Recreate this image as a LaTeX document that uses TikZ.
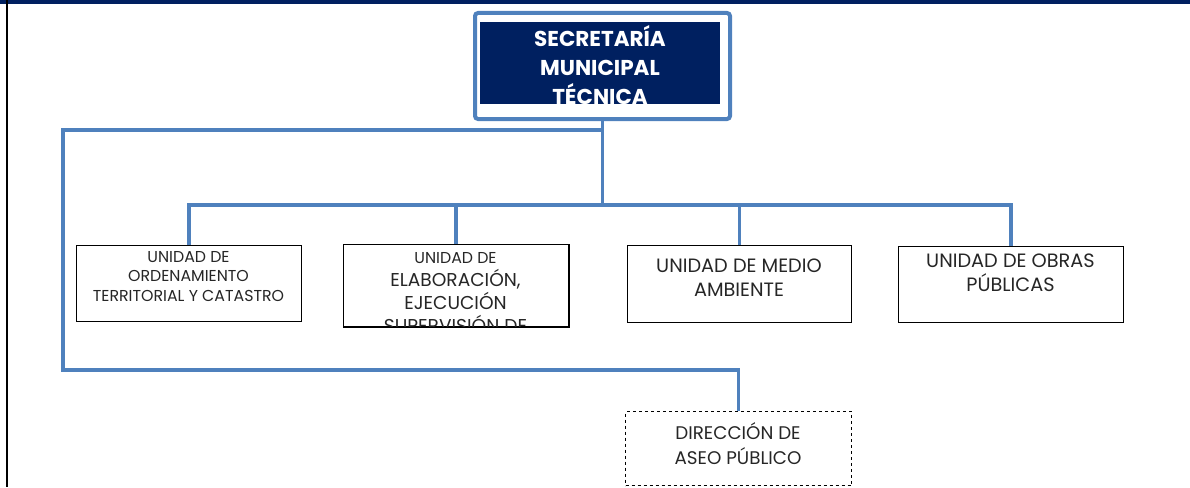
\documentclass[tikz,border=0pt]{standalone}
\usepackage{fontspec}
\setmainfont{Poppins}
\begin{document}
\begin{tikzpicture}[x=1pt,y=-1pt,
  conn/.style={draw=linkblue,line width=3.2pt},
  unit/.style={draw=black,line width=1pt,fill=white,anchor=north west,inner sep=0pt},
  ln/.style={anchor=base,inner sep=0pt,text=textgrey},
  sA/.style={font=\fontsize{15.8}{18}\selectfont},
  sB/.style={font=\fontsize{18.6}{22}\selectfont},
  sC/.style={font=\fontsize{19.3}{22}\selectfont},
  sD/.style={font=\fontsize{18.3}{22}\selectfont},
  hd/.style={anchor=base,inner sep=0pt,text=white,font=\bfseries\fontsize{21.5}{24}\selectfont}]
\definecolor{linkblue}{HTML}{4F81BD}
\definecolor{navy}{HTML}{002060}
\definecolor{textgrey}{HTML}{262626}
\useasboundingbox (0,0) rectangle (1190,487);
% page frame
\fill[navy] (0,0) rectangle (1190,4);
\fill[black] (5.5,0) rectangle (8,487);
% top box
\node[draw=linkblue,line width=4pt,rounded corners=3pt,minimum width=255pt,minimum height=106pt,inner sep=0pt,anchor=north west] (outer) at (473,11) {};
\begin{scope}
\clip (480,22) rectangle (720,104);
\node[fill=navy,minimum width=240pt,minimum height=82pt,inner sep=0pt,anchor=north west] (sec) at (480,22) {};
\node[hd] (h1) at (600,47) {SECRETARÍA};
\node[hd] (h2) at (600,75) {MUNICIPAL};
\node[hd] (h3) at (600,104) {TÉCNICA};
\end{scope}
% unit 1
\node[unit,minimum width=225pt,minimum height=76pt] (u1) at (76,245) {};
\node[ln,sA] (u1a) at (188.5,262) {UNIDAD DE};
\node[ln,sA] (u1b) at (188.5,281.5) {ORDENAMIENTO};
\node[ln,sA] (u1c) at (188.5,301) {TERRITORIAL Y CATASTRO};
% unit 2
\node[unit,minimum width=225pt,minimum height=82pt] (u2) at (343,244) {};
\begin{scope}
\clip (343,244) rectangle (568,326);
\node[ln,sA] (u2a) at (455.5,263) {UNIDAD DE};
\node[ln,sB] (u2b) at (455.5,286) {ELABORACIÓN,};
\node[ln,sB] (u2c) at (455.5,309.5) {EJECUCIÓN};
\node[ln,sB] (u2d) at (455.5,332) {SUPERVISIÓN DE};
\end{scope}
\draw[black,line width=1pt] (u2.north west) rectangle (u2.south east);
% unit 3
\node[unit,minimum width=224pt,minimum height=77pt] (u3) at (627,245) {};
\node[ln,sC] (u3a) at (739,272) {UNIDAD DE MEDIO};
\node[ln,sC] (u3b) at (739,296) {AMBIENTE};
% unit 4
\node[unit,minimum width=225pt,minimum height=76pt] (u4) at (898,246) {};
\node[ln,sC] (u4a) at (1010.5,267) {UNIDAD DE OBRAS};
\node[ln,sC] (u4b) at (1010.5,291) {PÚBLICAS};
% dashed box
\node[draw=black,dashed,line width=1pt,minimum width=226pt,minimum height=74pt,inner sep=0pt,anchor=north west] (aseo) at (625,411) {};
\node[ln,sD] (a1) at (738,439) {DIRECCIÓN DE};
\node[ln,sD] (a2) at (738,464) {ASEO PÚBLICO};
% connectors
\coordinate (bus) at (0,205);
\coordinate (lb) at (0,130);
\coordinate (lc) at (63,370);
\draw[conn] (outer.south) -- (outer.south |- bus);
\draw[conn] (u1.north) |- (bus -| u4.north) -- (u4.north);
\draw[conn] (u2.north) -- (u2.north |- bus);
\draw[conn] (u3.north) -- (u3.north |- bus);
\draw[conn] (outer.south |- lb) -| (lc) -| (aseo.north);
\end{tikzpicture}
\end{document}
